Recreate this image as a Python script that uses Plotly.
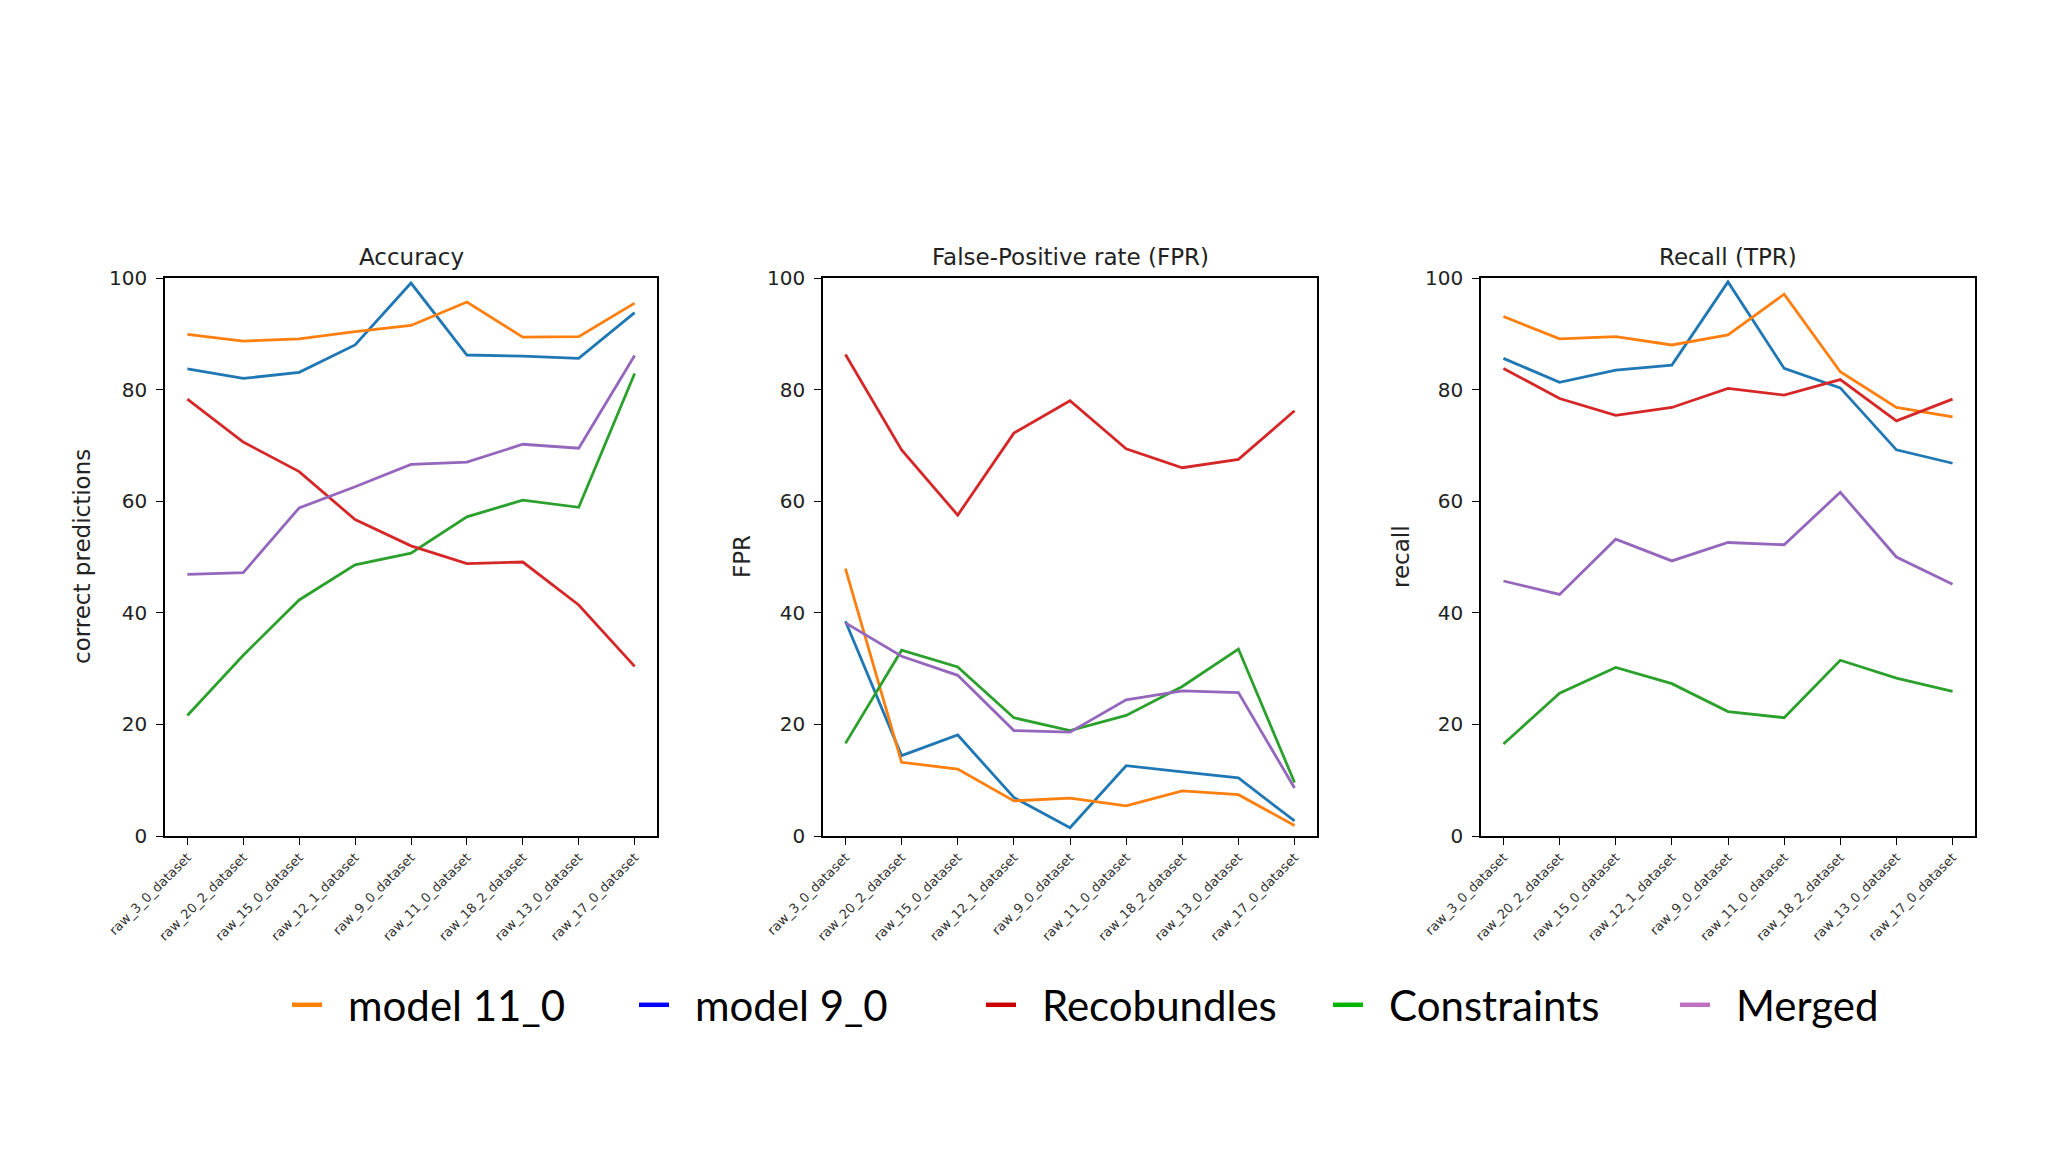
import plotly.graph_objects as go

categories = ['raw_3_0_dataset', 'raw_20_2_dataset', 'raw_15_0_dataset', 'raw_12_1_dataset',
              'raw_9_0_dataset', 'raw_11_0_dataset', 'raw_18_2_dataset', 'raw_13_0_dataset',
              'raw_17_0_dataset']
y_ticks = [0, 20, 40, 60, 80, 100]

series_names = ['model 11_0', 'model 9_0', 'Recobundles', 'Constraints', 'Merged']

acc_model11 = [89.9, 88.7, 89.1, 90.4, 91.5, 95.7, 89.4, 89.5, 95.5]
acc_model9 = [83.7, 82.0, 83.1, 88.0, 99.1, 86.2, 86.0, 85.6, 93.8]
acc_reco = [78.3, 70.6, 65.3, 56.7, 52.0, 48.8, 49.1, 41.4, 30.4]
acc_constraints = [21.6, 32.4, 42.3, 48.6, 50.7, 57.2, 60.2, 58.9, 82.9]
acc_merged = [46.9, 47.2, 58.8, 62.6, 66.6, 67.0, 70.2, 69.5, 86.1]

fpr_model11 = [47.9, 13.2, 12.0, 6.3, 6.8, 5.4, 8.1, 7.4, 1.9]
fpr_model9 = [38.5, 14.4, 18.1, 6.9, 1.5, 12.6, 11.5, 10.4, 2.7]
fpr_reco = [86.3, 69.2, 57.5, 72.2, 78.0, 69.4, 66.0, 67.5, 76.2]
fpr_constraints = [16.6, 33.3, 30.3, 21.2, 18.9, 21.6, 26.8, 33.5, 9.6]
fpr_merged = [38.2, 32.2, 28.8, 18.9, 18.6, 24.4, 26.0, 25.7, 8.6]

rec_model11 = [93.1, 89.1, 89.5, 88.0, 89.8, 97.1, 83.2, 76.8, 75.1]
rec_model9 = [85.6, 81.3, 83.5, 84.4, 99.3, 83.8, 80.3, 69.2, 66.8]
rec_reco = [83.8, 78.4, 75.4, 76.8, 80.2, 79.0, 81.8, 74.4, 78.3]
rec_constraints = [16.5, 25.6, 30.2, 27.3, 22.3, 21.2, 31.5, 28.3, 25.9]
rec_merged = [45.7, 43.3, 53.2, 49.3, 52.6, 52.2, 61.6, 50.0, 45.1]

panel_titles = ['Accuracy', 'False-Positive rate (FPR)', 'Recall (TPR)']
y_titles = ['correct predictions', 'FPR', 'recall']

line_colors = {'model 11_0': '#ff7f0e', 'model 9_0': '#1f77b4', 'Recobundles': '#d62728',
               'Constraints': '#2ca02c', 'Merged': '#9467bd'}
legend_colors = {'model 11_0': '#ff8000', 'model 9_0': '#0000ff', 'Recobundles': '#c80000',
                 'Constraints': '#00b400', 'Merged': '#bf70bf'}
draw_order = ['model 9_0', 'model 11_0', 'Constraints', 'Recobundles', 'Merged']

panels = [
    {'model 11_0': acc_model11, 'model 9_0': acc_model9, 'Recobundles': acc_reco,
     'Constraints': acc_constraints, 'Merged': acc_merged},
    {'model 11_0': fpr_model11, 'model 9_0': fpr_model9, 'Recobundles': fpr_reco,
     'Constraints': fpr_constraints, 'Merged': fpr_merged},
    {'model 11_0': rec_model11, 'model 9_0': rec_model9, 'Recobundles': rec_reco,
     'Constraints': rec_constraints, 'Merged': rec_merged},
]

W, H = 2048, 1152
OFF = 8  # page body margin


def px_x(p):
    return (p - OFF) / W


def px_y(p):
    return 1 - (p - OFF) / H


x_domains = [(px_x(165), px_x(657)), (px_x(823), px_x(1317)), (px_x(1481), px_x(1975))]
y_domain = (px_y(836), px_y(278))
ylabel_x = [82, 742, 1401]

fig = go.Figure()
annotations = []
for i, data in enumerate(panels):
    xa = 'x' if i == 0 else f'x{i+1}'
    ya = 'y' if i == 0 else f'y{i+1}'
    for name in draw_order:
        fig.add_trace(go.Scatter(x=categories, y=data[name], mode='lines', name=name,
                                 line=dict(color=line_colors[name], width=2.8),
                                 xaxis=xa, yaxis=ya, showlegend=False))
    axis_common = dict(showline=True, mirror=True, linecolor='black', linewidth=1.6,
                       ticks='outside', ticklen=7, tickwidth=1.4, tickcolor='black',
                       showgrid=False, zeroline=False)
    fig.layout[f'xaxis{"" if i == 0 else i+1}'] = dict(
        domain=list(x_domains[i]), anchor=ya, type='category', range=[-0.4, 8.4],
        tickangle=-45, tickfont=dict(family='DejaVu Sans', size=13, color='#333333'),
        **axis_common)
    fig.layout[f'yaxis{"" if i == 0 else i+1}'] = dict(
        domain=list(y_domain), anchor=xa, range=[0, 100], tickvals=y_ticks,
        ticklabelstandoff=5,
        tickfont=dict(family='DejaVu Sans', size=20, color='#222222'), **axis_common)
    annotations.append(dict(text=panel_titles[i], xref='paper', yref='paper',
                            x=(x_domains[i][0] + x_domains[i][1]) / 2, y=y_domain[1],
                            xanchor='center', yanchor='bottom', yshift=6, showarrow=False,
                            font=dict(family='DejaVu Sans', size=23, color='#222222')))
    annotations.append(dict(text=y_titles[i], xref='paper', yref='paper',
                            x=px_x(ylabel_x[i]), y=(y_domain[0] + y_domain[1]) / 2,
                            xanchor='center', yanchor='middle', textangle=-90, showarrow=False,
                            font=dict(family='DejaVu Sans', size=23, color='#222222')))

legend_order = ['model 11_0', 'model 9_0', 'Recobundles', 'Constraints', 'Merged']
for name in legend_order:
    fig.add_trace(go.Scatter(x=[None], y=[None], mode='lines', name='\u2002' + name,
                             line=dict(color=legend_colors[name], width=4.5),
                             xaxis='x', yaxis='y', showlegend=True))

fig.update_layout(
    width=W, height=H, autosize=False,
    margin=dict(l=0, r=0, t=0, b=0, autoexpand=False),
    paper_bgcolor='white', plot_bgcolor='white',
    annotations=annotations,
    showlegend=True,
    legend=dict(orientation='h', x=px_x(287), y=px_y(1005), xanchor='left', yanchor='middle',
                font=dict(family='Lato', size=42, color='black'),
                entrywidth=302, entrywidthmode='pixels', bgcolor='rgba(0,0,0,0)',
                traceorder='normal', itemwidth=30),
)

fig.write_html('out.html')
